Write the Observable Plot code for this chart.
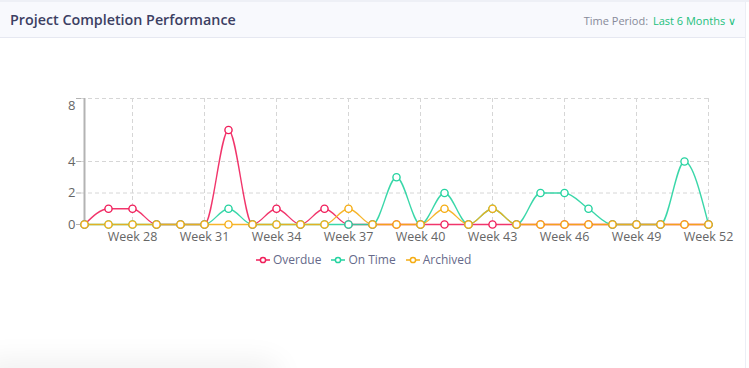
<!DOCTYPE html>
<html>
<head>
<meta charset="utf-8">
<script src="https://cdn.jsdelivr.net/npm/d3@7"></script>
<script src="https://cdn.jsdelivr.net/npm/@observablehq/plot@0.6"></script>
<style>
  html, body { margin: 0; padding: 0; background: #ffffff; }
  body { width: 749px; height: 368px; overflow: hidden; position: relative; font-family: "Open Sans", sans-serif; }
  .card { position: absolute; left: 0; top: 0; width: 745px; height: 368px; background: #fff; border-right: 1px solid #eceef5; }
  .topstrip { position: absolute; left: 0; top: 0; width: 749px; height: 2px; background: #eef0f6; }
  .header { position: absolute; left: 0; top: 2px; width: 745px; height: 35px; background: #f8f9fd; border-bottom: 1px solid #e6e8f1; }
  .title { position: absolute; left: 10px; top: 8px; font-size: 14.3px; font-weight: 600; color: #3c4063; }
  .period { position: absolute; right: 9px; top: 11px; font-size: 11px; color: #878a99; }
  .period .val { color: #22c07c; margin-left: 2px; }
  #chart { position: absolute; left: 0; top: 40px; }
  #legend { position: absolute; left: 256px; top: 251px; display: flex; gap: 10px; font-size: 12px; color: #666a8a; align-items: center; }
  #legend .item { display: flex; align-items: center; gap: 3px; }
  .shadow { position: absolute; left: -20px; top: 372px; width: 300px; height: 30px; box-shadow: 0 -10px 30px rgba(0,0,0,0.07); border-radius: 40px; }
</style>
</head>
<body>
<div class="card"></div>
<div class="topstrip"></div>
<div class="header">
  <div class="title">Project Completion Performance</div>
  <div class="period">Time Period: <span class="val">Last 6 Months &#8744;</span></div>
</div>
<div id="chart"></div>
<div id="legend"></div>
<div class="shadow"></div>
<script>
const weeks = ["Week 26","Week 27","Week 28","Week 29","Week 30","Week 31","Week 32","Week 33","Week 34",
  "Week 35","Week 36","Week 37","Week 38","Week 39","Week 40","Week 41","Week 42","Week 43","Week 44",
  "Week 45","Week 46","Week 47","Week 48","Week 49","Week 50","Week 51","Week 52"];
const xTickLabels = ["Week 28","Week 31","Week 34","Week 37","Week 40","Week 43","Week 46","Week 49","Week 52"];
const yTicks = [0, 2, 4, 8];

const seriesNames = ["Overdue", "On Time", "Archived"];
const seriesColors = ["#f01f5b", "#25d3a0", "#f5ad14"];

const overdue  = [0,1,1,0,0,0,6,0,1,0,1,0,0,0,0,0,0,0,0,0,0,0,0,0,0,0,0];
const onTime   = [0,0,0,0,0,0,1,0,0,0,0,0,0,3,0,2,0,1,0,2,2,1,0,0,0,4,0];
const archived = [0,0,0,0,0,0,0,0,0,0,0,1,0,0,0,1,0,1,0,0,0,0,0,0,0,0,0];

const seriesValues = [overdue, onTime, archived];
const rows = [];
seriesNames.forEach((s, i) => {
  seriesValues[i].forEach((v, j) => rows.push({series: s, week: weeks[j], value: v}));
});

const firstWeek = weeks[0];
const chart = Plot.plot({
  width: 749,
  height: 210,
  marginLeft: 81,
  marginRight: 38,
  marginTop: 58,
  marginBottom: 26,
  style: { fontFamily: "Open Sans, sans-serif", background: "transparent", overflow: "visible" },
  x: { type: "point", domain: weeks, padding: 0 },
  y: { domain: [0, 8] },
  color: { domain: seriesNames, range: seriesColors },
  marks: [
    Plot.gridY(yTicks.filter(d => d > 0), { stroke: "#d6d6d6", strokeOpacity: 1, strokeDasharray: "4,3", strokeWidth: 1 }),
    Plot.gridX(xTickLabels, { stroke: "#d6d6d6", strokeOpacity: 1, strokeDasharray: "4,3", strokeWidth: 1 }),
    Plot.ruleX([firstWeek], { x: d => d, y1: 0, y2: 8, stroke: "#b3b3b3", strokeWidth: 2 }),
    Plot.axisY({ ticks: yTicks, tickSize: 5, tickFormat: () => "", stroke: "#b3b3b3", label: null }),
    Plot.text(yTicks.filter(d => d < 8), { x: () => firstWeek, y: d => d, text: d => String(d), dx: -9, textAnchor: "end", fontSize: 13, fill: "#666666" }),
    Plot.text(yTicks.filter(d => d >= 8), { x: () => firstWeek, y: d => d, text: d => String(d), dx: -9, dy: 7, textAnchor: "end", fontSize: 13, fill: "#666666" }),
    Plot.axisX({ ticks: xTickLabels, tickSize: 0, tickPadding: 8, fontSize: 12.5, fill: "#666666", label: null }),
    Plot.line(rows, { x: "week", y: "value", stroke: "series", z: "series", curve: "monotone-x", strokeWidth: 1.4, strokeOpacity: 0.9 }),
    Plot.dot(rows, { x: "week", y: "value", stroke: "series", fill: "white", r: 3.6, strokeWidth: 1.4 })
  ]
});
document.getElementById("chart").appendChild(chart);

const legend = document.getElementById("legend");
seriesNames.forEach((s, i) => {
  const item = document.createElement("div");
  item.className = "item";
  item.innerHTML = `<svg width="14" height="10"><line x1="0" y1="5" x2="14" y2="5" stroke="${seriesColors[i]}" stroke-width="1.5"/><circle cx="7" cy="5" r="2.6" fill="white" stroke="${seriesColors[i]}" stroke-width="1.5"/></svg><span>${s}</span>`;
  legend.appendChild(item);
});
</script>
</body>
</html>
